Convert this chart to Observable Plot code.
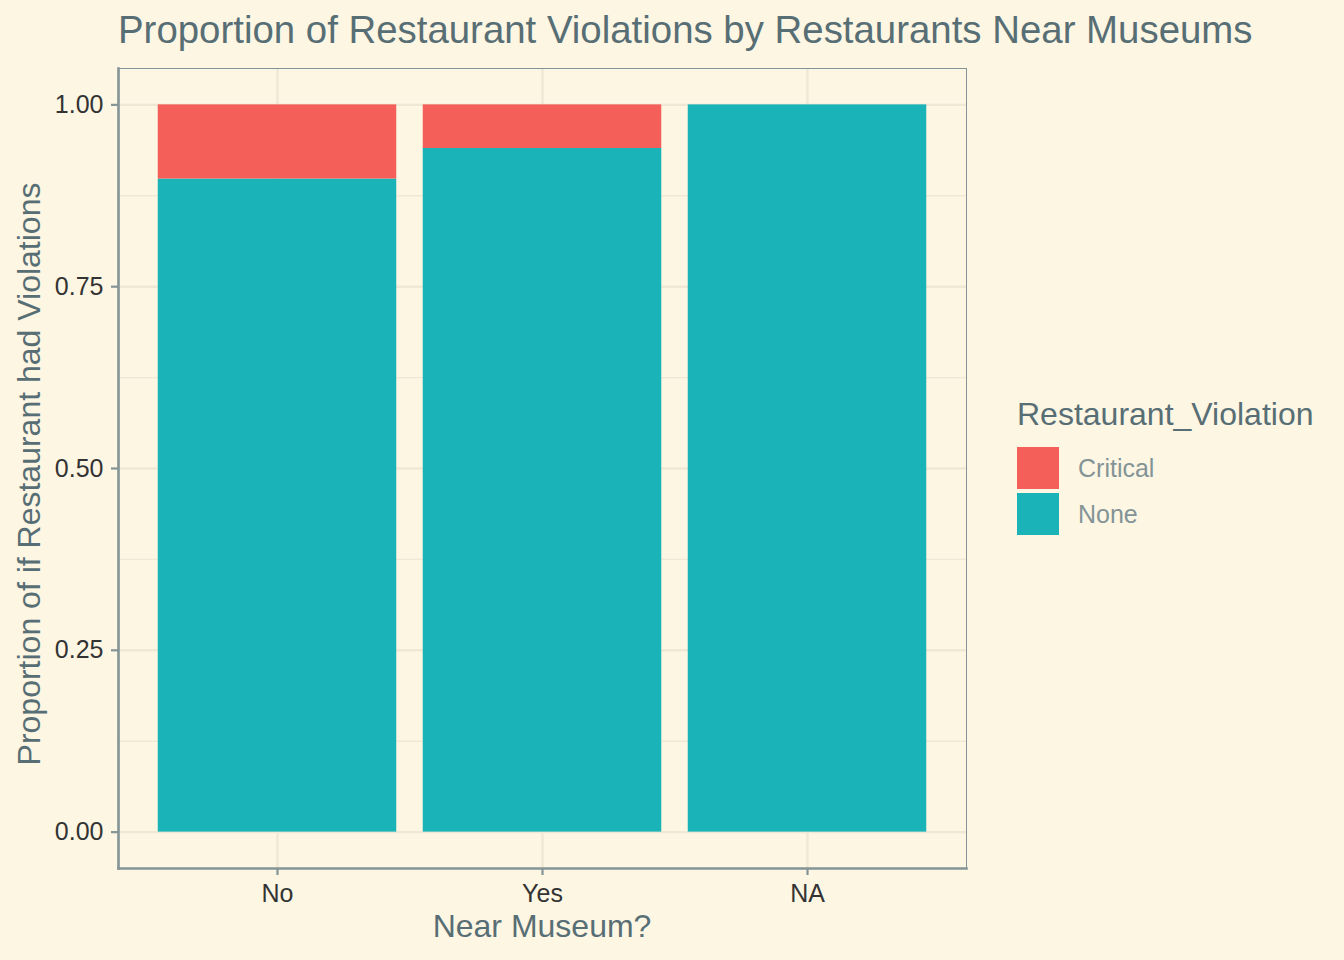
<!DOCTYPE html>
<html>
<head>
<meta charset="utf-8">
<script src="https://cdn.jsdelivr.net/npm/d3@7"></script>
<script src="https://cdn.jsdelivr.net/npm/@observablehq/plot@0.6"></script>
<style>
  html, body { margin: 0; padding: 0; background: #FDF6E3; }
  #wrap { position: relative; width: 1344px; height: 960px; background: #FDF6E3;
          font-family: "Liberation Sans", Arial, Helvetica, sans-serif; overflow: hidden; }
  #wrap svg { position: absolute; left: 0; top: 0; }
  .txt { position: absolute; white-space: nowrap; line-height: 1; }
  #title { left: 118px; top: 11px; font-size: 38.4px; color: #586E75; }
  #xtitle { left: 542px; top: 910px; font-size: 32px; line-height: 32px; color: #586E75; transform: translateX(-50%); }
  #ytitle { left: 29px; top: 474px; font-size: 32px; line-height: 32px; color: #586E75; transform: translate(-50%, -50%) rotate(-90deg); }
  #legtitle { left: 1017px; top: 398px; font-size: 32px; color: #586E75; }
  .key { position: absolute; left: 1017px; width: 42px; height: 42px; }
  .klab { position: absolute; left: 1078px; font-size: 25px; line-height: 1; color: #839496; white-space: nowrap; }
</style>
</head>
<body>
<div id="wrap"></div>
<script>
// ---- data ----
const categories = ["No", "Yes", "NA"];
const violationTypes = ["Critical", "None"];
const criticalShare = [0.102, 0.060, 0.000];
const noneShare = [0.898, 0.940, 1.000];
const yTicks = [0, 0.25, 0.5, 0.75, 1];
const yMinorTicks = [0.125, 0.375, 0.625, 0.875];
const violationColors = ["#F45F5A", "#19B3B8"];
const titleText = "Proportion of Restaurant Violations by Restaurants Near Museums";
const xTitle = "Near Museum?";
const yTitle = "Proportion of if Restaurant had Violations";
const legendTitle = "Restaurant_Violation";

const rows = categories.flatMap((c, i) => [
  {near: c, violation: "None", share: noneShare[i]},
  {near: c, violation: "Critical", share: criticalShare[i]}
]);

const gridColor = "#EEE8D5";
const axisColor = "#839496";

const chart = Plot.plot({
  width: 1344,
  height: 960,
  marginLeft: 118,
  marginRight: 378,
  marginTop: 68,
  marginBottom: 92,
  style: {background: "transparent", fontFamily: "'Liberation Sans', Arial, sans-serif", overflow: "visible"},
  x: {domain: categories, paddingInner: 0.1, paddingOuter: 0.15, round: false, label: null},
  y: {domain: [-0.05, 1.05], label: null},
  color: {domain: violationTypes, range: violationColors},
  marks: [
    Plot.gridY(yMinorTicks, {stroke: gridColor, strokeOpacity: 1, strokeWidth: 1.4}),
    Plot.gridY(yTicks, {stroke: gridColor, strokeOpacity: 1, strokeWidth: 2.4}),
    Plot.gridX({stroke: gridColor, strokeOpacity: 1, strokeWidth: 2.4}),
    Plot.barY(rows, Plot.stackY({x: "near", y: "share", fill: "violation", order: ["None", "Critical"]})),
    Plot.frame({stroke: axisColor, strokeWidth: 1}),
    Plot.frame({anchor: "left", stroke: axisColor, strokeWidth: 2.6}),
    Plot.frame({anchor: "bottom", stroke: axisColor, strokeWidth: 2.6}),
    Plot.axisY(yTicks, {tickFormat: d3.format(".2f"), tickSize: 7, tickPadding: 8, fontSize: 25,
      color: "#333333", stroke: axisColor, strokeWidth: 2.2, label: null}),
    Plot.axisX({tickSize: 7, tickPadding: 9, fontSize: 25,
      color: "#333333", stroke: axisColor, strokeWidth: 2.2, label: null})
  ]
});

const wrap = document.getElementById("wrap");
wrap.appendChild(chart);

function addText(id, text) {
  const d = document.createElement("div");
  d.id = id; d.className = "txt"; d.textContent = text;
  wrap.appendChild(d);
}
addText("title", titleText);
addText("xtitle", xTitle);
addText("ytitle", yTitle);
addText("legtitle", legendTitle);

const keyTops = [447, 493];
const labTops = [456, 502];
violationTypes.forEach((v, i) => {
  const k = document.createElement("div");
  k.className = "key";
  k.style.top = keyTops[i] + "px";
  k.style.background = violationColors[i];
  wrap.appendChild(k);
  const l = document.createElement("div");
  l.className = "klab";
  l.style.top = labTops[i] + "px";
  l.textContent = v;
  wrap.appendChild(l);
});
</script>
</body>
</html>
